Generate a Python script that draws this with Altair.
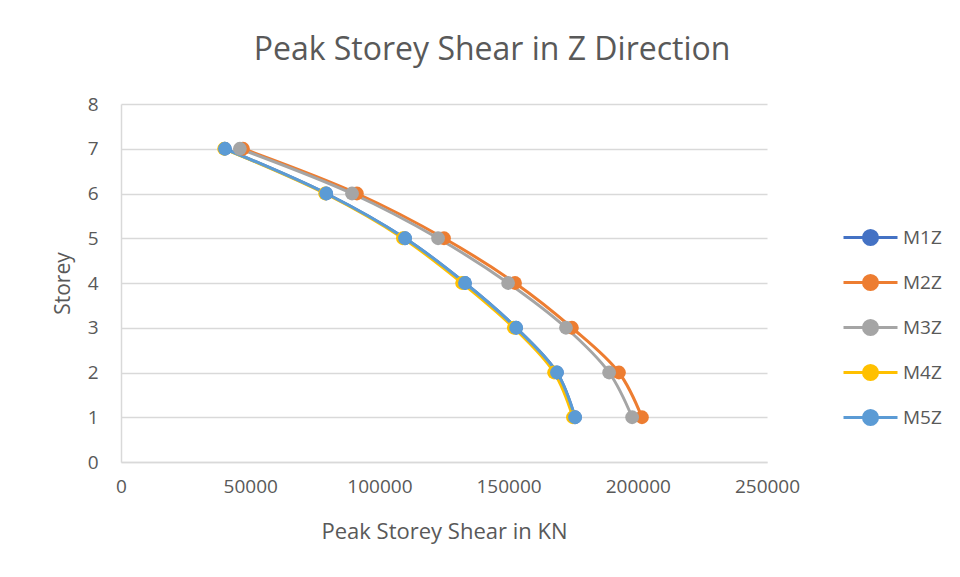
import altair as alt
import pandas as pd

storeys = [1, 2, 3, 4, 5, 6, 7]
series_names = ["M1Z", "M2Z", "M3Z", "M4Z", "M5Z"]
m1z = [175700, 168700, 152900, 133100, 109900, 79400, 40200]
m2z = [201600, 192700, 174500, 152500, 125000, 91300, 47200]
m3z = [197800, 188900, 172200, 149800, 122700, 89400, 46000]
m4z = [174900, 167600, 152000, 132000, 109100, 79000, 39900]
m5z = [175700, 168700, 152900, 133100, 109900, 79400, 40200]
colors = ["#4472C4", "#ED7D31", "#A5A5A5", "#FFC000", "#5B9BD5"]
x_ticks = [0, 50000, 100000, 150000, 200000, 250000]
y_ticks = [0, 1, 2, 3, 4, 5, 6, 7, 8]

rows = []
for name, vals in zip(series_names, [m1z, m2z, m3z, m4z, m5z]):
    for s, v in zip(storeys, vals):
        rows.append({"series": name, "storey": s, "shear": v})
df = pd.DataFrame(rows)

FONT = "Open Sans"
GRAY = "#595959"

legend_path = ("M-1.8,0L-0.47,0M0.47,0L1.8,0"
               "M-0.47,0A0.47,0.47 0 1,1 0.47,0A0.47,0.47 0 1,1 -0.47,0Z")

x = alt.X("shear:Q", scale=alt.Scale(domain=[0, 250000]),
          axis=alt.Axis(values=x_ticks, format="d", title="Peak Storey Shear in KN",
                        grid=False, ticks=False, domain=True, domainColor="#d9d9d9",
                        domainWidth=1.5, labelPadding=15, titlePadding=25,
                        labelFlush=False, labelOverlap=False, titleFontSize=22))
y = alt.Y("storey:Q", scale=alt.Scale(domain=[0, 8]),
          axis=alt.Axis(values=y_ticks, title="Storey", grid=True, gridColor="#d9d9d9",
                        gridWidth=1.5, ticks=False, domain=True, domainColor="#d9d9d9",
                        domainWidth=1.5, labelPadding=23, titlePadding=14))
color = alt.Color("series:N", scale=alt.Scale(domain=series_names, range=colors),
                  legend=alt.Legend(title=None, orient="none", legendX=733, legendY=117,
                                    symbolType=legend_path, symbolSize=900,
                                    symbolStrokeWidth=3, rowPadding=15,
                                    labelOffset=16, labelFontSize=19, labelColor=GRAY,
                                    labelFont=FONT))

base = alt.Chart(df).encode(x=x, y=y, color=color, order=alt.Order("storey:Q"))
lines = base.mark_line(strokeWidth=3, interpolate="catmull-rom")
points = base.mark_point(filled=True, size=190, opacity=1, shape="circle")

chart = alt.layer(lines, points).properties(
    width=646, height=358,
    autosize=alt.AutoSizeParams(type="none"),
    padding={"left": 113, "top": 96, "right": 185, "bottom": 90},
    title=alt.TitleParams("Peak Storey Shear in Z Direction", fontSize=32, font=FONT,
                          fontWeight="normal", color=GRAY, anchor="middle",
                          frame="group", dx=48, offset=28),
).configure_view(stroke=None).configure_axis(
    labelFont=FONT, titleFont=FONT, labelFontSize=19, titleFontSize=21,
    labelColor=GRAY, titleColor=GRAY, titleFontWeight="normal"
)

chart.save("out.html", embed_options={"renderer": "svg", "actions": False})
